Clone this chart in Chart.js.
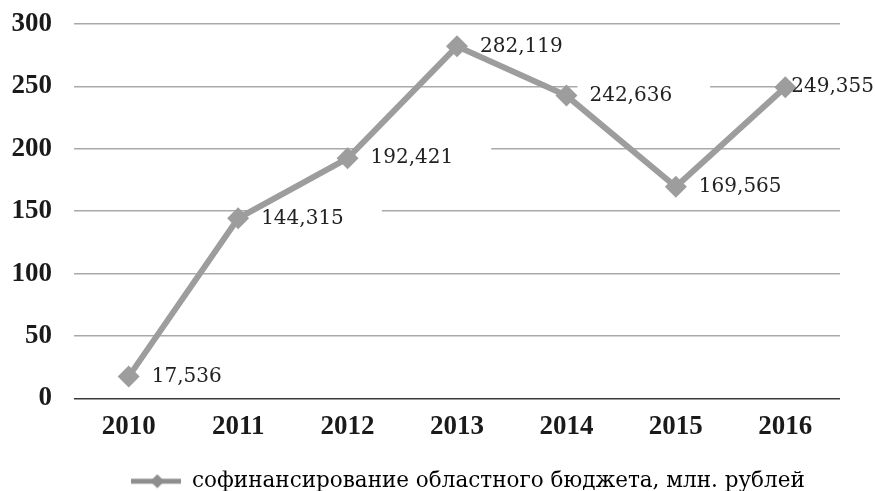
<!DOCTYPE html>
<html>
<head>
<meta charset="utf-8">
<script src="https://cdn.jsdelivr.net/npm/chart.js@4"></script>
<style>
  html, body { margin: 0; padding: 0; background: #fff; }
  #wrap { width: 875px; height: 491px; }
</style>
</head>
<body>
<div id="wrap"><canvas id="grafico" width="875" height="491"></canvas></div>
<script>
const years = ["2010", "2011", "2012", "2013", "2014", "2015", "2016"];
const cofin = [17.536, 144.315, 192.421, 282.119, 242.636, 169.565, 249.355];
const yTicks = [0, 50, 100, 150, 200, 250, 300];
const seriesName = "софинансирование областного бюджета, млн. рублей";

const gris = "#9d9d9e";

// значок легенды: линия с ромбом
const icono = document.createElement("canvas");
icono.width = 50; icono.height = 16;
const ic = icono.getContext("2d");
ic.strokeStyle = "#8e8e8f"; ic.lineWidth = 5;
ic.beginPath(); ic.moveTo(0, 8); ic.lineTo(50, 8); ic.stroke();
ic.fillStyle = "#8e8e8f";
ic.beginPath(); ic.moveTo(26, 1); ic.lineTo(33, 8); ic.lineTo(26, 15); ic.lineTo(19, 8); ic.closePath(); ic.fill();

function fmt(v) { return v.toFixed(3).replace(".", ","); }

const labelFont = "20px 'DejaVu Serif'";

function posEtiqueta(chart, p, w) {
  return Math.min(p.x + 23, chart.width - w - 1);
}

// подписи данных с белой подложкой
const etiquetas = {
  id: "etiquetas",
  afterLayout(chart) {
    // легенда в оригинале сдвинута вправо и ниже
    chart.legend.left += 96;
    chart.legend.top += 11;
    chart.legend.bottom += 11;
  },
  beforeDatasetsDraw(chart) {
    const ctx = chart.ctx;
    const pts = chart.getDatasetMeta(0).data;
    ctx.save();
    ctx.font = labelFont;
    ctx.fillStyle = "#fff";
    pts.forEach((p, i) => {
      const w = ctx.measureText(fmt(cofin[i])).width;
      const x = posEtiqueta(chart, p, w);
      ctx.fillRect(x - 12, p.y - 12, w + 50, 24);
    });
    ctx.restore();
  },
  afterDatasetsDraw(chart) {
    const ctx = chart.ctx;
    const pts = chart.getDatasetMeta(0).data;
    ctx.save();
    ctx.font = labelFont;
    ctx.fillStyle = "#222";
    ctx.textBaseline = "middle";
    pts.forEach((p, i) => {
      const w = ctx.measureText(fmt(cofin[i])).width;
      ctx.fillText(fmt(cofin[i]), posEtiqueta(chart, p, w), p.y);
    });
    ctx.restore();
  }
};

new Chart(document.getElementById("grafico"), {
  type: "line",
  data: {
    labels: years,
    datasets: [{
      label: seriesName,
      data: cofin,
      borderColor: gris,
      backgroundColor: gris,
      borderWidth: 6,
      pointStyle: "rectRot",
      pointRadius: 11,
      pointHoverRadius: 11,
      pointBackgroundColor: gris,
      pointBorderWidth: 0,
      tension: 0
    }]
  },
  options: {
    responsive: false,
    animation: false,
    layout: { padding: { top: 24, right: 35, left: 0, bottom: 0 } },
    plugins: {
      tooltip: { enabled: false },
      legend: {
        position: "bottom",
        labels: {
          font: { family: "DejaVu Serif", size: 21.5 },
          color: "#222",
          padding: 0,
          usePointStyle: true,
          pointStyleWidth: 50,
          generateLabels: (chart) => [{
            text: seriesName,
            pointStyle: icono,
            fillStyle: gris,
            strokeStyle: gris,
            lineWidth: 0,
            datasetIndex: 0
          }]
        }
      }
    },
    scales: {
      x: {
        offset: true,
        grid: { display: false },
        border: { display: false },
        afterFit: (s) => { s.height = 61; },
        ticks: {
          font: { family: "Liberation Serif", size: 27, weight: "bold" },
          color: "#1a1a1a",
          padding: 4
        }
      },
      y: {
        min: 0,
        max: 300,
        afterBuildTicks: (s) => { s.ticks = yTicks.map(v => ({ value: v })); },
        afterFit: (s) => { s.width = 74; s.paddingTop = 0; s.paddingBottom = 0; },
        grid: {
          drawTicks: false,
          color: (c) => c.tick.value === 0 ? "#3a3a3a" : "#a9a9a9",
          lineWidth: 1.6
        },
        border: { display: false },
        ticks: {
          font: { family: "Liberation Serif", size: 27, weight: "bold" },
          color: "#1a1a1a",
          padding: 22
        }
      }
    }
  },
  plugins: [etiquetas]
});
</script>
</body>
</html>
